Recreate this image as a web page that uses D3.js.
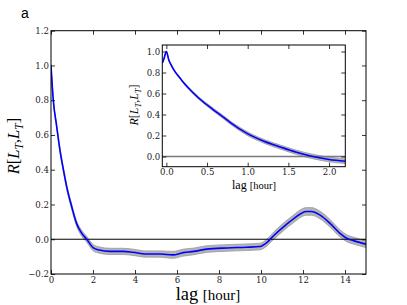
<!DOCTYPE html>
<html>
<head>
<meta charset="utf-8">
<script src="https://cdn.jsdelivr.net/npm/d3@7"></script>
<style>
  body { margin: 0; background: #fff; }
  svg { display: block; }
  .tick-label { font-family: 'DejaVu Serif', serif; font-size: 8.6px; fill: #222; }
</style>
</head>
<body>
<svg id="chart" width="407" height="305"></svg>
<script>
/* global d3 */
// main curve: lag [hour] vs autocorrelation, with half-width of the grey band
var mainLag = [0, 0.11, 0.27, 0.43, 0.59, 0.75, 0.98, 1.22, 1.46, 1.7, 2.02, 2.3, 2.8, 3.44, 3.9, 4.5, 5.2, 5.8,
  6.3, 6.8, 7.4, 8.4, 9.3, 9.95, 10.3, 10.6, 11.1, 11.5, 12.17, 12.4, 12.8, 13.3, 13.76, 14.08, 14.4, 15];
var mainR = [1.0, 0.80, 0.65, 0.51, 0.40, 0.30, 0.19, 0.09, 0.035, 0.0, -0.05, -0.062, -0.07, -0.07, -0.075, -0.085,
  -0.085, -0.09, -0.077, -0.07, -0.057, -0.05, -0.046, -0.042, -0.017, 0.02, 0.074, 0.113, 0.16, 0.16, 0.14, 0.09,
  0.034, 0.006, -0.008, -0.028];
var mainErr = [0.005, 0.008, 0.01, 0.012, 0.013, 0.014, 0.015, 0.016, 0.017, 0.017, 0.018, 0.018, 0.018, 0.018,
  0.018, 0.018, 0.018, 0.02, 0.02, 0.019, 0.019, 0.019, 0.019, 0.019, 0.02, 0.021, 0.022, 0.022, 0.022, 0.022,
  0.022, 0.022, 0.021, 0.02, 0.02, 0.02];
var mainXTicks = [0, 2, 4, 6, 8, 10, 12, 14];
var mainYTicks = [-0.2, 0.0, 0.2, 0.4, 0.6, 0.8, 1.0, 1.2];

// inset: zoom on the first two hours
var insetLag = [-0.05, -0.03, 0, 0.03, 0.06, 0.1, 0.16, 0.2, 0.28, 0.4, 0.57, 0.7, 0.8, 0.98, 1.2, 1.39, 1.6, 1.8,
  2.0, 2.2];
var insetR = [0.89, 0.93, 1.0, 0.92, 0.87, 0.815, 0.755, 0.715, 0.645, 0.555, 0.45, 0.375, 0.315, 0.225, 0.145, 0.093,
  0.04, 0.0, -0.028, -0.045];
var insetErr = [0.004, 0.004, 0.004, 0.005, 0.006, 0.007, 0.008, 0.009, 0.01, 0.012, 0.014, 0.015, 0.016, 0.017,
  0.018, 0.019, 0.02, 0.021, 0.022, 0.022];
var insetXTicks = [0.0, 0.5, 1.0, 1.5, 2.0];
var insetYTicks = [0.0, 0.2, 0.4, 0.6, 0.8, 1.0];

(function () {
  'use strict';
  var svg = d3.select('#chart');
  var labelFont = "'Liberation Serif', 'Times New Roman', serif";

  /**
   * Draw one framed panel (band, curve, zero line, inward ticks on all four sides)
   * @param {object} opt - box, domains, data arrays, tick lists and formats
   * @return {object} the scales and the group of the panel
   */
  function drawPanel (opt) {
    var x = d3.scaleLinear().domain(opt.xDomain).range([opt.left, opt.right]);
    var y = d3.scaleLinear().domain(opt.yDomain).range([opt.bottom, opt.top]);
    var g = svg.append('g');

    g.append('rect')
      .attr('x', opt.left).attr('y', opt.top)
      .attr('width', opt.right - opt.left).attr('height', opt.bottom - opt.top)
      .attr('fill', '#fff');

    var clipId = 'clip-' + opt.name;
    g.append('clipPath').attr('id', clipId)
      .append('rect')
      .attr('x', opt.left).attr('y', opt.top)
      .attr('width', opt.right - opt.left).attr('height', opt.bottom - opt.top);

    var inner = g.append('g').attr('clip-path', 'url(#' + clipId + ')');
    var idx = d3.range(opt.lag.length);

    var area = d3.area()
      .curve(d3.curveMonotoneX)
      .x(function (i) { return x(opt.lag[i]); })
      .y0(function (i) { return y(opt.r[i] - opt.err[i]); })
      .y1(function (i) { return y(opt.r[i] + opt.err[i]); });
    inner.append('path')
      .attr('d', area(idx))
      .attr('fill', '#b4b4b4')
      .attr('stroke', '#999')
      .attr('stroke-width', 0.8);

    inner.append('line')
      .attr('x1', opt.left).attr('x2', opt.right)
      .attr('y1', y(0)).attr('y2', y(0))
      .attr('stroke', opt.zeroColor)
      .attr('stroke-width', opt.zeroWidth);

    var line = d3.line()
      .curve(d3.curveMonotoneX)
      .x(function (i) { return x(opt.lag[i]); })
      .y(function (i) { return y(opt.r[i]); });
    inner.append('path')
      .attr('d', line(idx))
      .attr('fill', 'none')
      .attr('stroke', '#0000ff')
      .attr('stroke-width', 1.6);

    // inward ticks on all four sides, labels only bottom and left
    var tl = 4;
    var axes = [
      { axis: d3.axisBottom(x), tr: 'translate(0,' + opt.bottom + ')', ticks: opt.xTicks, fmt: opt.xFmt, pad: 2.5 },
      { axis: d3.axisTop(x), tr: 'translate(0,' + opt.top + ')', ticks: opt.xTicks, fmt: null, pad: 3 },
      { axis: d3.axisLeft(y), tr: 'translate(' + opt.left + ',0)', ticks: opt.yTicks, fmt: '.1f', pad: 2 },
      { axis: d3.axisRight(y), tr: 'translate(' + opt.right + ',0)', ticks: opt.yTicks, fmt: null, pad: 2 }
    ];
    axes.forEach(function (a) {
      a.axis.tickValues(a.ticks).tickSizeInner(-tl).tickSizeOuter(0).tickPadding(a.pad);
      var ag = g.append('g').attr('transform', a.tr).call(a.axis);
      ag.select('.domain').remove();
      ag.selectAll('.tick line').attr('stroke', '#000').attr('stroke-width', 0.8);
      ag.selectAll('.tick text')
        .attr('class', 'tick-label')
        .attr('fill', '#222')
        .text(a.fmt ? function (d) { return d3.format(a.fmt)(d).replace('-', '\u2212'); } : '');
    });

    g.append('rect')
      .attr('x', opt.left).attr('y', opt.top)
      .attr('width', opt.right - opt.left).attr('height', opt.bottom - opt.top)
      .attr('fill', 'none')
      .attr('stroke', '#000')
      .attr('stroke-width', 1);

    return { x: x, y: y, g: g };
  }

  /**
   * Write "R[L_T, L_T]" as a rotated label
   */
  function yLabel (cx, cy, size) {
    var t = svg.append('text')
      .attr('transform', 'translate(' + cx + ',' + cy + ') rotate(-90)')
      .attr('text-anchor', 'middle')
      .style('font-family', labelFont)
      .style('font-size', size + 'px')
      .attr('fill', '#000');
    var sub = size * 0.7;
    t.append('tspan').style('font-style', 'italic').text('R');
    t.append('tspan').text('[');
    t.append('tspan').style('font-style', 'italic').text('L');
    t.append('tspan').style('font-style', 'italic').style('font-size', sub + 'px').attr('dy', size * 0.22).text('T');
    t.append('tspan').attr('dy', -size * 0.22).text(',');
    t.append('tspan').style('font-style', 'italic').text('L');
    t.append('tspan').style('font-style', 'italic').style('font-size', sub + 'px').attr('dy', size * 0.22).text('T');
    t.append('tspan').attr('dy', -size * 0.22).text(']');
  }

  /**
   * Write "lag [hour]" centred under a panel
   */
  function xLabel (cx, cy, size, small) {
    var t = svg.append('text')
      .attr('x', cx).attr('y', cy)
      .attr('text-anchor', 'middle')
      .style('font-family', labelFont)
      .attr('fill', '#000');
    t.append('tspan').style('font-size', size + 'px').text('lag ');
    t.append('tspan').style('font-size', small + 'px').text('[hour]');
  }

  drawPanel({
    name: 'main',
    left: 51, right: 366, top: 30.7, bottom: 274,
    xDomain: [0, 15], yDomain: [-0.2, 1.2],
    lag: mainLag, r: mainR, err: mainErr,
    xTicks: mainXTicks, yTicks: mainYTicks, xFmt: 'd',
    zeroColor: '#000', zeroWidth: 1
  });
  yLabel(19, 146, 16.5);
  xLabel(208, 299.5, 18.5, 15);

  drawPanel({
    name: 'inset',
    left: 162.3, right: 345.3, top: 45, bottom: 166.7,
    xDomain: [-0.05, 2.2], yDomain: [-0.097, 1.062],
    lag: insetLag, r: insetR, err: insetErr,
    xTicks: insetXTicks, yTicks: insetYTicks, xFmt: '.1f',
    zeroColor: '#7a7a7a', zeroWidth: 1.5
  });
  yLabel(138, 105, 12);
  xLabel(254, 189, 12, 10.5);

  svg.append('text')
    .attr('x', 21).attr('y', 18)
    .style('font-family', "'Liberation Sans', Arial, sans-serif")
    .style('font-size', '14px')
    .attr('fill', '#000')
    .text('a');
}());
</script>
</body>
</html>
